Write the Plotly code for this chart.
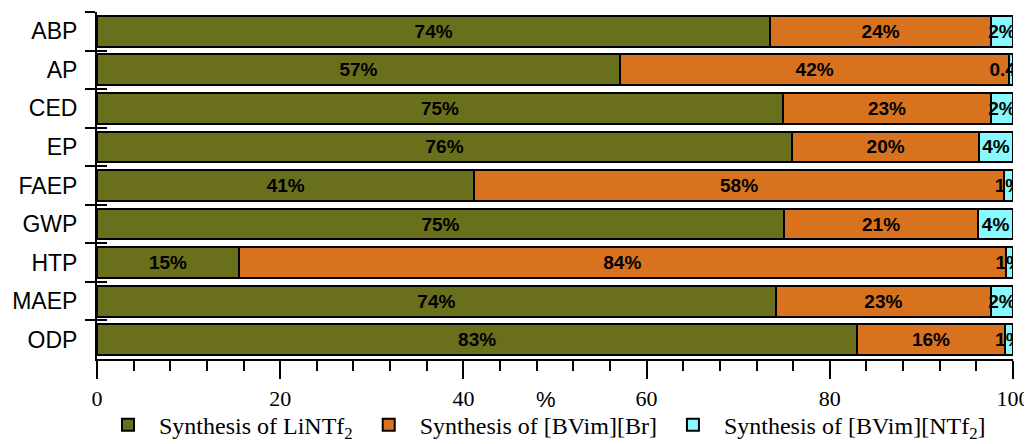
import plotly.graph_objects as go

categories = ["ABP", "AP", "CED", "EP", "FAEP", "GWP", "HTP", "MAEP", "ODP"]
lintf2 = [73.5, 57.1, 74.9, 75.9, 41.2, 75.0, 15.5, 74.1, 83.0]
bvim_br = [24.1, 42.5, 22.7, 20.4, 57.8, 21.2, 83.7, 23.5, 16.1]
bvim_ntf2 = [2.4, 0.4, 2.4, 3.7, 1.0, 3.8, 0.8, 2.4, 0.9]
lintf2_lbl = ["74%", "57%", "75%", "76%", "41%", "75%", "15%", "74%", "83%"]
bvim_br_lbl = ["24%", "42%", "23%", "20%", "58%", "21%", "84%", "23%", "16%"]
bvim_ntf2_lbl = ["2%", "0.4%", "2%", "4%", "1%", "4%", "1%", "2%", "1%"]
series_names = ["Synthesis of LiNTf<sub>2</sub>", "Synthesis of [BVim][Br]",
                "Synthesis of [BVim][NTf<sub>2</sub>]"]
colors = ["#6A6F1B", "#D8721F", "#88F9FF"]
x_ticks = [0, 20, 40, 60, 80, 100]

fig = go.Figure()
for vals, lbls, name, col in zip([lintf2, bvim_br, bvim_ntf2],
                                 [lintf2_lbl, bvim_br_lbl, bvim_ntf2_lbl],
                                 series_names, colors):
    fig.add_trace(go.Bar(
        y=categories, x=vals, orientation="h", name=name,
        marker=dict(color=col, line=dict(color="black", width=2)),
        text=lbls, textposition="inside", insidetextanchor="middle",
        textangle=0, constraintext="none", cliponaxis=True,
        textfont=dict(family="Liberation Sans", size=19, color="black", weight="bold"),
    ))

# helper trace for the inner half of the category boundary ticks
fig.add_trace(go.Scatter(x=[0], y=[0], yaxis="y2", mode="markers",
                         marker=dict(opacity=0), showlegend=False,
                         hoverinfo="skip"))

# the page body has an 8px margin, so the figure is sized to fill the rest
fig.update_layout(
    width=1024, height=436,
    barmode="stack", bargap=0.2,
    plot_bgcolor="white", paper_bgcolor="white",
    margin=dict(l=89, r=19, t=4, b=85, autoexpand=False),
    xaxis=dict(range=[0, 100], tickvals=x_ticks, ticks="outside", ticklen=18,
               tickwidth=2, tickcolor="black", showline=True, linewidth=2,
               linecolor="black", showgrid=False, zeroline=False,
               ticklabelstandoff=1, automargin=False,
               tickfont=dict(family="Liberation Serif", size=22, color="black"),
               minor=dict(dtick=4, ticks="outside", ticklen=10, tickwidth=2,
                          tickcolor="black", showgrid=False)),
    yaxis=dict(autorange="reversed", categoryorder="array", categoryarray=categories,
               tickson="boundaries", ticks="outside", ticklen=10, tickwidth=2,
               tickcolor="black", showline=True, linewidth=2, linecolor="black",
               showgrid=False, ticklabelstandoff=13, automargin=False,
               tickfont=dict(family="Liberation Sans", size=23, color="black")),
    yaxis2=dict(overlaying="y", anchor="x", side="left", range=[8.5, -0.5],
                tickvals=[i - 0.5 for i in range(len(categories) + 1)],
                ticks="inside", ticklen=10, tickwidth=2, tickcolor="black",
                showticklabels=False, showgrid=False, zeroline=False, showline=False,
                automargin=False),
    legend=dict(orientation="h", x=0, xanchor="left", y=-0.126, yanchor="top",
                bgcolor="rgba(0,0,0,0)",
                font=dict(family="Liberation Serif", size=24, color="black"),
                itemwidth=52, traceorder="normal"),
    annotations=[dict(text="%", xref="paper", yref="paper", x=0.49, y=-0.075,
                      xanchor="center", yanchor="top", showarrow=False,
                      font=dict(family="Liberation Sans", size=22, color="black"))],
)

fig.write_html("out.html")
